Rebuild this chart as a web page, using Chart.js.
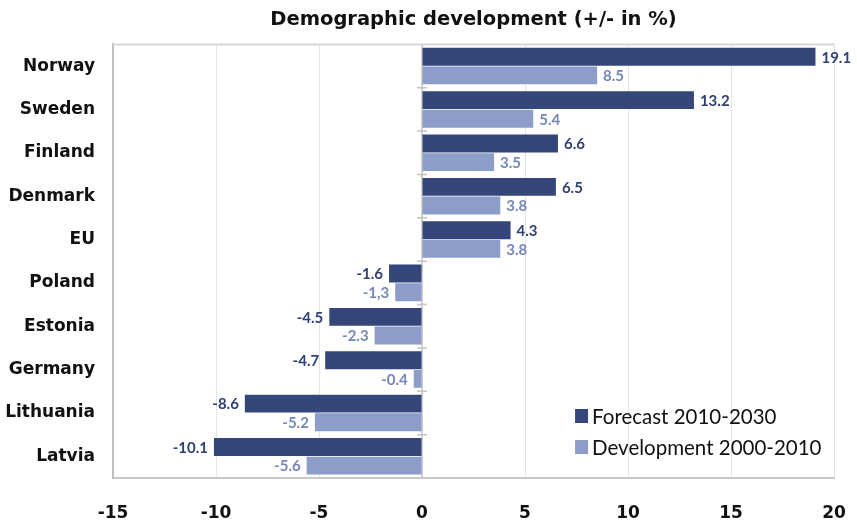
<!DOCTYPE html>
<html>
<head>
<meta charset="utf-8">
<script src="https://cdn.jsdelivr.net/npm/chart.js@4.4.0/dist/chart.umd.min.js"></script>
<style>
  html, body { margin: 0; padding: 0; background: #fff; }
  #wrap { width: 857px; height: 526px; }
</style>
</head>
<body>
<div id="wrap"><canvas id="demo"></canvas></div>
<script>
const countries = ['Norway', 'Sweden', 'Finland', 'Denmark', 'EU', 'Poland', 'Estonia', 'Germany', 'Lithuania', 'Latvia']
const forecast = [19.1, 13.2, 6.6, 6.5, 4.3, -1.6, -4.5, -4.7, -8.6, -10.1]
const development = [8.5, 5.4, 3.5, 3.8, 3.8, -1.3, -2.3, -0.4, -5.2, -5.6]
const developmentText = ['8.5', '5.4', '3.5', '3.8', '3.8', '-1,3', '-2.3', '-0.4', '-5.2', '-5.6']
const xTicks = [-15, -10, -5, 0, 5, 10, 15, 20]

const DARK = '#34467a'
const LIGHT = '#8b9dc8'
const WIDE = 'DejaVu Sans'
const NARROW = 'Lato'

// value labels next to each bar
const barLabels = {
    id: 'barLabels',
    afterDatasetsDraw(chart) {
        const ctx = chart.ctx
        ctx.save()
        ctx.font = 'bold 15px ' + NARROW
        ctx.textBaseline = 'middle'
        chart.data.datasets.forEach((ds, di) => {
            const meta = chart.getDatasetMeta(di)
            meta.data.forEach((bar, i) => {
                const v = ds.data[i]
                const txt = di === 0 ? v.toFixed(1) : developmentText[i]
                ctx.fillStyle = di === 0 ? '#2f4173' : '#7487b8'
                if (v >= 0) {
                    ctx.textAlign = 'left'
                    ctx.fillText(txt, bar.x + 6, bar.y + 1)
                } else {
                    ctx.textAlign = 'right'
                    ctx.fillText(txt, bar.x - 6, bar.y + 1)
                }
            })
        })
        ctx.restore()
    }
}

// top frame + zero line with little ticks between the categories
const zeroAxis = {
    id: 'zeroAxis',
    beforeDatasetsDraw(chart) {
        const ctx = chart.ctx
        const x0 = chart.scales.x.getPixelForValue(0)
        const y = chart.scales.y
        const area = chart.chartArea
        ctx.save()
        ctx.strokeStyle = '#d6d6d6'
        ctx.lineWidth = 2
        ctx.beginPath()
        ctx.moveTo(area.left, area.top)
        ctx.lineTo(area.right, area.top)
        ctx.stroke()

        ctx.strokeStyle = '#c4c4c4'
        ctx.lineWidth = 1.5
        ctx.beginPath()
        ctx.moveTo(x0, area.top)
        ctx.lineTo(x0, area.bottom)
        for (let i = 1; i < countries.length; i++) {
            const yy = (y.getPixelForValue(i - 1) + y.getPixelForValue(i)) / 2
            ctx.moveTo(x0 - 5, yy)
            ctx.lineTo(x0 + 5, yy)
        }
        ctx.stroke()
        ctx.restore()
    }
}

// legend in the lower right of the plot
const boxLegend = {
    id: 'boxLegend',
    afterDraw(chart) {
        const ctx = chart.ctx
        const area = chart.chartArea
        const left = chart.scales.x.getPixelForValue(7.43)
        ctx.save()
        ctx.font = '20.5px ' + NARROW
        ctx.textBaseline = 'middle'
        ctx.textAlign = 'left'
        chart.data.datasets.forEach((ds, i) => {
            const yy = area.bottom - 62 + i * 31
            ctx.fillStyle = ds.backgroundColor
            ctx.fillRect(left, yy - 7, 13, 14)
            ctx.fillStyle = '#111'
            ctx.fillText(ds.label, left + 17, yy + 1)
        })
        ctx.restore()
    }
}

new Chart(document.getElementById('demo'), {
    type: 'bar',
    data: {
        labels: countries,
        datasets: [{
            label: 'Forecast 2010-2030',
            data: forecast,
            backgroundColor: DARK,
            categoryPercentage: 0.86,
            barPercentage: 0.96
        }, {
            label: 'Development 2000-2010',
            data: development,
            backgroundColor: LIGHT,
            categoryPercentage: 0.86,
            barPercentage: 0.96
        }]
    },
    options: {
        indexAxis: 'y',
        responsive: true,
        maintainAspectRatio: false,
        animation: false,
        layout: { padding: { top: 0, right: 23, bottom: 0, left: 0 } },
        plugins: {
            legend: { display: false },
            tooltip: { enabled: false },
            title: {
                display: true,
                fullSize: false,
                text: 'Demographic development (+/- in %)',
                color: '#111',
                font: { family: WIDE, size: 19.5, weight: 'bold' },
                padding: { top: 8, bottom: 13 }
            }
        },
        scales: {
            x: {
                min: -15,
                max: 20,
                afterBuildTicks(scale) {
                    scale.ticks = xTicks.map(v => ({ value: v }))
                },
                afterFit(scale) { scale.height = 48 },
                grid: {
                    color: '#e4e4e4',
                    lineWidth: 1,
                    drawTicks: true,
                    tickLength: 22,
                    tickColor: 'rgba(0,0,0,0)'
                },
                border: { color: '#c8c8c8', width: 2 },
                ticks: {
                    color: '#111',
                    padding: 3,
                    font: { family: WIDE, size: 17, weight: 'bold' }
                }
            },
            y: {
                afterFit(scale) { scale.width = 113 },
                grid: { display: false },
                border: { color: '#c0c0c0', width: 2 },
                ticks: {
                    color: '#111',
                    padding: 10,
                    font: { family: WIDE, size: 17, weight: 'bold' }
                }
            }
        }
    },
    plugins: [zeroAxis, barLabels, boxLegend]
})
</script>
</body>
</html>
